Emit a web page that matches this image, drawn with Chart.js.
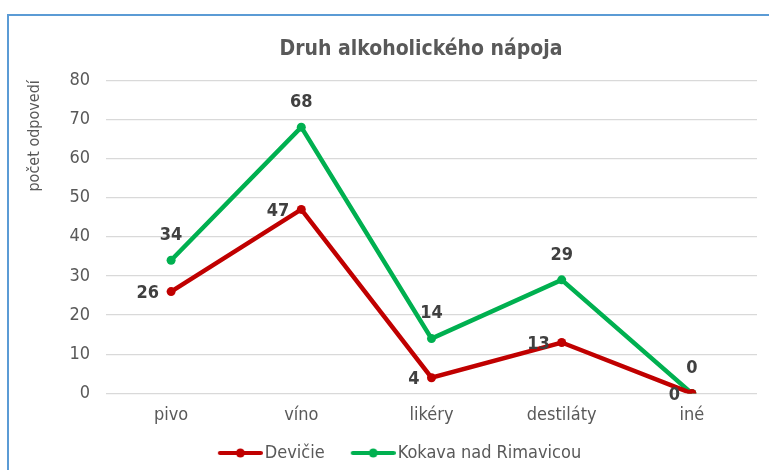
<!DOCTYPE html>
<html>
<head>
<meta charset="utf-8">
<script src="https://cdn.jsdelivr.net/npm/chart.js@4/dist/chart.umd.min.js"></script>
<style>
  html, body { margin: 0; padding: 0; background: #fff; overflow: hidden; }
  body { width: 769px; height: 470px; position: relative; }
  #frame {
    position: absolute; left: 7px; top: 14px; width: 824px; height: 480px;
    border-left: 2px solid #5b9bd5; border-top: 2px solid #5b9bd5;
  }
  #wrap { position: absolute; left: 0; top: 0; width: 824px; height: 480px; }
</style>
</head>
<body>
<div id="frame"><div id="wrap"><canvas id="chart"></canvas></div></div>
<script>
"use strict";

const CATEGORIES = ["pivo", "víno", "likéry", "destiláty", "iné"];
const DEVICIE = [26, 47, 4, 13, 0];
const KOKAVA = [34, 68, 14, 29, 0];
const Y_TICKS = [0, 10, 20, 30, 40, 50, 60, 70, 80];

const FONT = "'Liberation Sans Narrow', 'Arial Narrow', 'DejaVu Sans Condensed', sans-serif";
const RED = "#c00000";
const GREEN = "#00b050";
const TEXT = "#595959";

// legend marker: short line with a dot; drawn in the right part of the image
// so it sits close to its text and keeps a gap from the previous item
function marker(color) {
  const c = document.createElement("canvas");
  c.width = 63; c.height = 10;
  const g = c.getContext("2d");
  g.strokeStyle = color; g.lineWidth = 4; g.lineCap = "round";
  g.beginPath(); g.moveTo(20, 5); g.lineTo(61, 5); g.stroke();
  g.fillStyle = color;
  g.beginPath(); g.arc(40.5, 5, 4.5, 0, Math.PI * 2); g.fill();
  return c;
}

// values next to the points: Devičie left of the point, Kokava above it
const valueLabels = {
  id: "valueLabels",
  afterDatasetsDraw(chart) {
    const ctx = chart.ctx;
    ctx.save();
    ctx.font = "bold 18px " + FONT;
    ctx.fillStyle = "#404040";
    ctx.textBaseline = "middle";
    chart.data.datasets.forEach((ds, i) => {
      const meta = chart.getDatasetMeta(i);
      meta.data.forEach((pt, j) => {
        if (ds.labelPos === "left") {
          ctx.textAlign = "right";
          ctx.fillText(String(ds.data[j]), pt.x - 12, pt.y + 2);
        } else {
          ctx.textAlign = "center";
          ctx.fillText(String(ds.data[j]), pt.x, pt.y - 25);
        }
      });
    });
    ctx.restore();
  },
};

// the legend sits a little left of the title's centre in the original
const legendShift = {
  id: "legendShift",
  afterLayout(chart) {
    chart.legend.left -= 27;
    chart.legend.right -= 27;
  },
};

const red = marker(RED);
const green = marker(GREEN);

new Chart(document.getElementById("chart"), {
  type: "line",
  data: {
    labels: CATEGORIES,
    datasets: [
      {
        label: "Devičie", data: DEVICIE, labelPos: "left",
        borderColor: RED, backgroundColor: RED, borderWidth: 4.5,
        pointRadius: 4.5, pointBorderWidth: 0, tension: 0, legendMarker: red,
      },
      {
        label: "Kokava nad Rimavicou", data: KOKAVA, labelPos: "top",
        borderColor: GREEN, backgroundColor: GREEN, borderWidth: 4.5,
        pointRadius: 4.5, pointBorderWidth: 0, tension: 0, legendMarker: green,
      },
    ],
  },
  options: {
    responsive: true,
    maintainAspectRatio: false,
    animation: false,
    layout: { padding: { left: 0, right: 0, top: 0, bottom: 24 } },
    plugins: {
      tooltip: { enabled: false },
      title: {
        display: true,
        text: "Druh alkoholického nápoja",
        color: TEXT,
        font: { family: FONT, size: 21, weight: "bold" },
        padding: { top: 21, bottom: 18 },
      },
      legend: {
        position: "bottom",
        labels: {
          color: TEXT,
          font: { family: FONT, size: 18 },
          usePointStyle: true,
          pointStyleWidth: 49,
          boxHeight: 10,
          padding: 15,
          generateLabels(chart) {
            const items = Chart.defaults.plugins.legend.labels.generateLabels(chart);
            items.forEach((it) => {
              it.pointStyle = chart.data.datasets[it.datasetIndex].legendMarker;
            });
            return items;
          },
        },
      },
    },
    scales: {
      x: {
        offset: true,
        grid: { display: false },
        border: { display: false },
        ticks: { color: TEXT, font: { family: FONT, size: 18 }, padding: 3 },
      },
      y: {
        min: 0, max: 80,
        afterBuildTicks(scale) { scale.ticks = Y_TICKS.map((v) => ({ value: v })); },
        afterFit(scale) { scale.width = 97; },
        grid: { color: "#d9d9d9", lineWidth: 1.3, drawTicks: false },
        border: { display: false },
        ticks: { color: TEXT, font: { family: FONT, size: 18 }, padding: 16 },
        title: {
          display: true,
          text: "počet odpovedí",
          align: "end",
          color: TEXT,
          font: { family: FONT, size: 16 },
          padding: { top: 16, bottom: 0 },
        },
      },
      // empty right-hand axis keeps the plot area's right margin
      yRight: {
        position: "right",
        display: true,
        grid: { display: false },
        border: { display: false },
        ticks: { display: false },
        afterFit(scale) { scale.width = 76; },
      },
    },
  },
  plugins: [valueLabels, legendShift],
});
</script>
</body>
</html>
